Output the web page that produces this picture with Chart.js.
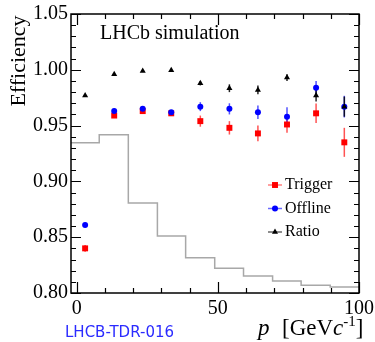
<!DOCTYPE html>
<html>
<head>
<meta charset="utf-8">
<script src="https://cdn.jsdelivr.net/npm/chart.js@4/dist/chart.umd.min.js"></script>
<style>
    html, body { margin: 0; padding: 0; background: #fff; }
    #wrap { width: 375px; height: 342px; position: relative; }
</style>
</head>
<body>
<div id="wrap"><canvas id="effChart" width="375" height="342"></canvas></div>
<script>
// momentum bin centres [GeV/c]
var binCenters = [3, 13.3, 23.4, 33.5, 43.8, 54.1, 64.2, 74.5, 84.8, 94.8];

var triggerEff = [0.840, 0.959, 0.963, 0.961, 0.954, 0.948, 0.943, 0.951, 0.961, 0.935];
var triggerErr = [0.003, 0.002, 0.002, 0.002, 0.005, 0.006, 0.007, 0.0075, 0.0087, 0.013];

var offlineEff = [0.861, 0.963, 0.965, 0.962, 0.967, 0.965, 0.962, 0.958, 0.984, 0.967];
var offlineErr = [0.002, 0.002, 0.002, 0.002, 0.004, 0.005, 0.006, 0.0084, 0.006, 0.0097];

var ratioEff = [0.977, 0.996, 0.999, 0.9996, 0.988, 0.9835, 0.982, 0.993, 0.977, 0.967];
var ratioErr = [0.001, 0.001, 0.001, 0.001, 0.002, 0.0035, 0.004, 0.003, 0.0055, 0.009];

// momentum spectrum (arbitrary units, drawn on the efficiency axis)
var histEdges = [-2, 8, 18.3, 28.6, 38.6, 48.9, 59.1, 69.4, 79.5, 89.8, 100];
var histHeights = [0.9346, 0.9418, 0.8807, 0.851, 0.8315, 0.8222, 0.8153, 0.8108, 0.8069, 0.8054];

var yTicks = [0.80, 0.85, 0.90, 0.95, 1.00, 1.05];
var xTicks = [0, 50, 100];

var serif = "'Liberation Serif', 'Times New Roman', serif";

function toPoints(xs, ys) {
    var pts = [];
    for (var i = 0; i < xs.length; i++) {
        pts.push({ x: xs[i], y: ys[i] });
    }
    return pts;
}

var histPoints = toPoints(histEdges, histHeights.concat([histHeights[histHeights.length - 1]]));

var errors = [
    { data: triggerEff, err: triggerErr, color: 'rgba(255, 40, 40, 0.8)' },
    { data: offlineEff, err: offlineErr, color: 'rgba(40, 40, 255, 0.8)' },
    { data: ratioEff, err: ratioErr, color: 'rgba(0, 0, 0, 0.85)' }
];

var legendItems = [
    { label: 'Trigger', style: 'rect', radius: 4.2, color: '#ff0000', line: 'rgba(255, 40, 40, 0.6)' },
    { label: 'Offline', style: 'circle', radius: 3, color: '#0000ff', line: 'rgba(40, 40, 255, 0.7)' },
    { label: 'Ratio', style: 'triangle', radius: 3.5, color: '#000000', line: 'rgba(0, 0, 0, 0.6)' }
];

// error bars under the markers
var errorBarPlugin = {
    id: 'errorBars',
    beforeDatasetsDraw: function (chart) {
        var ctx = chart.ctx;
        var xs = chart.scales.x, ys = chart.scales.y;
        ctx.save();
        ctx.lineWidth = 1.5;
        errors.forEach(function (s) {
            ctx.strokeStyle = s.color;
            for (var i = 0; i < binCenters.length; i++) {
                var px = xs.getPixelForValue(binCenters[i]);
                ctx.beginPath();
                ctx.moveTo(px, ys.getPixelForValue(s.data[i] - s.err[i]));
                ctx.lineTo(px, ys.getPixelForValue(s.data[i] + s.err[i]));
                ctx.stroke();
            }
        });
        ctx.restore();
    }
};

// frame, inward ticks, titles, legend
var framePlugin = {
    id: 'frame',
    afterDraw: function (chart) {
        var ctx = chart.ctx;
        var a = chart.chartArea;
        var xs = chart.scales.x, ys = chart.scales.y;
        ctx.save();
        ctx.strokeStyle = '#000';
        ctx.lineWidth = 1.5;
        ctx.strokeRect(a.left, a.top, a.right - a.left, a.bottom - a.top);

        ctx.lineWidth = 1.2;
        ctx.beginPath();
        // y ticks, every 0.01, major each 0.05
        for (var k = 80; k <= 105; k++) {
            var py = Math.round(ys.getPixelForValue(k / 100)) + 0.5;
            var len = (k % 5 == 0) ? 10 : 5;
            ctx.moveTo(a.left, py); ctx.lineTo(a.left + len, py);
            ctx.moveTo(a.right, py); ctx.lineTo(a.right - len, py);
        }
        // x ticks, every 10, major each 50
        for (var v = 0; v <= 100; v += 10) {
            var px = Math.round(xs.getPixelForValue(v)) + 0.5;
            var l2 = (v % 50 == 0) ? 11 : 5;
            ctx.moveTo(px, a.bottom); ctx.lineTo(px, a.bottom - l2);
            ctx.moveTo(px, a.top); ctx.lineTo(px, a.top + l2);
        }
        ctx.stroke();

        ctx.fillStyle = '#000';
        ctx.textBaseline = 'alphabetic';

        // LHCb simulation label
        ctx.font = '20px ' + serif;
        ctx.textAlign = 'left';
        ctx.fillText('LHCb simulation', 100, 39);

        // y title
        ctx.save();
        ctx.translate(25, 61);
        ctx.rotate(-Math.PI / 2);
        ctx.font = '22px ' + serif;
        ctx.textAlign = 'center';
        ctx.fillText('Efficiency', 0, 0);
        ctx.restore();

        // x title: p [GeVc^-1]
        ctx.textAlign = 'left';
        ctx.font = 'italic 23px ' + serif;
        ctx.fillText('p', 258, 335);
        var parts = [
            { t: '[GeV', f: '23px ' + serif, dy: 0 },
            { t: 'c', f: 'italic 23px ' + serif, dy: 0 },
            { t: '-1', f: '15px ' + serif, dy: -9 },
            { t: ']', f: '23px ' + serif, dy: 0 }
        ];
        var x = 282;
        parts.forEach(function (p) {
            ctx.font = p.f;
            ctx.fillText(p.t, x, 335 + p.dy);
            x += ctx.measureText(p.t).width;
        });

        // legend
        ctx.font = '16px ' + serif;
        ctx.textBaseline = 'middle';
        legendItems.forEach(function (item, i) {
            var cy = 185 + i * 23.5;
            ctx.strokeStyle = item.line;
            ctx.lineWidth = 1.5;
            ctx.beginPath();
            ctx.moveTo(268, cy); ctx.lineTo(282, cy);
            ctx.stroke();
            ctx.fillStyle = item.color;
            Chart.helpers.drawPoint(ctx, { pointStyle: item.style, radius: item.radius, borderWidth: 0 }, 275, cy);
            ctx.fillStyle = '#000';
            ctx.fillText(item.label, 285, cy);
        });

        // reference tag
        ctx.font = "15px 'DejaVu Sans', sans-serif";
        ctx.fillStyle = '#2b2bff';
        ctx.textBaseline = 'alphabetic';
        ctx.fillText('LHCB-TDR-016', 65, 337);
        ctx.restore();
    }
};

new Chart(document.getElementById('effChart').getContext('2d'), {
    type: 'scatter',
    data: {
        datasets: [{
            label: 'Spectrum',
            type: 'line',
            data: histPoints,
            stepped: 'before',
            borderColor: '#a8a8a8',
            borderWidth: 1.5,
            pointRadius: 0,
            fill: false,
            order: 4
        },
        {
            label: 'Trigger',
            data: toPoints(binCenters, triggerEff),
            pointStyle: 'rect',
            pointRadius: 4.2,
            backgroundColor: '#ff0000',
            borderWidth: 0,
            order: 3
        },
        {
            label: 'Offline',
            data: toPoints(binCenters, offlineEff),
            pointStyle: 'circle',
            pointRadius: 3,
            backgroundColor: '#0000ff',
            borderWidth: 0,
            order: 2
        },
        {
            label: 'Ratio',
            data: toPoints(binCenters, ratioEff),
            pointStyle: 'triangle',
            pointRadius: 3.5,
            backgroundColor: '#000000',
            borderWidth: 0,
            order: 1
        }]
    },
    options: {
        responsive: false,
        animation: false,
        layout: { padding: { top: 14, right: 16, left: 0, bottom: 0 } },
        plugins: {
            legend: { display: false },
            tooltip: { enabled: false }
        },
        scales: {
            x: {
                type: 'linear',
                min: -2,
                max: 100,
                grid: { display: false, drawTicks: false },
                border: { display: false },
                afterBuildTicks: function (scale) {
                    scale.ticks = xTicks.map(function (v) { return { value: v }; });
                },
                afterFit: function (scale) {
                    scale.height = 49;
                    scale.paddingLeft = 0;
                    scale.paddingRight = 0;
                },
                ticks: {
                    padding: 4,
                    maxRotation: 0,
                    color: '#000',
                    font: { family: serif, size: 20 }
                }
            },
            y: {
                min: 0.80,
                max: 1.05,
                grid: { display: false, drawTicks: false },
                border: { display: false },
                afterBuildTicks: function (scale) {
                    scale.ticks = yTicks.map(function (v) { return { value: v }; });
                },
                afterFit: function (scale) {
                    scale.width = 71;
                    scale.paddingTop = 0;
                    scale.paddingBottom = 0;
                },
                ticks: {
                    padding: 3,
                    color: '#000',
                    font: { family: serif, size: 20 },
                    callback: function (value) { return value.toFixed(2); }
                }
            }
        }
    },
    plugins: [errorBarPlugin, framePlugin]
});
</script>
</body>
</html>
